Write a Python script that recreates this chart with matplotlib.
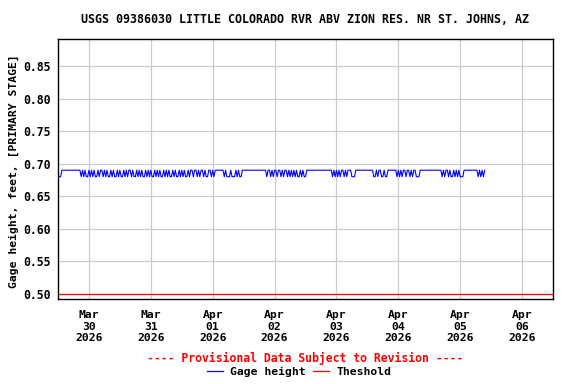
import numpy as np
import pandas as pd
import matplotlib
matplotlib.use("Agg")
import matplotlib.pyplot as plt
from matplotlib.lines import Line2D

plt.rcParams['font.family'] = ['DejaVu Sans Mono']
plt.rcParams['font.weight'] = 'bold'

titulo = "USGS 09386030 LITTLE COLORADO RVR ABV ZION RES. NR ST. JOHNS, AZ"
ylabel = "Gage height, feet, [PRIMARY STAGE]"

# lecturas cada 30 min desde 2026-03-29 12:30, 1 = 0.69 ft, 0 = 0.68 ft
inicio = "2026-03-29 12:30"
tramos = [
    "00",
    "111111111111111",
    "0101001010" "1001011010" "1001010010" "1001010110" "1001010100"
    "1010100101" "0100101010" "01010010",
    "1010010110" "1101011010" "0110101",
    "111111",
    "010001000101001",
    "1111111111111111",
    "11011010110110101101",
    "01010100101001",
    "1111111111111111111",
    "0101010110101110001",
    "1111111111111",
    "00101100100",
    "1111111",
    "010101101101011000",
    "11111111111111111",
    "0101101001" "0101000111" "1111111101" "0101",
]
nivel_alto = 0.69
nivel_bajo = 0.68
umbral = 0.50

patron = "".join(tramos)
valores = np.where(np.array(list(patron)) == "1", nivel_alto, nivel_bajo)
tiempos = pd.date_range(inicio, periods=len(valores), freq="30min")

dias = pd.date_range("2026-03-30", "2026-04-06", freq="D")
etiquetas = [d.strftime("%b\n%d\n%Y") for d in dias]
yticks = [0.50, 0.55, 0.60, 0.65, 0.70, 0.75, 0.80, 0.85]

fig = plt.figure(figsize=(5.76, 3.84), dpi=100)
ax = fig.add_axes([0.1007, 0.2214, 0.8594, 0.677])

ax.plot(tiempos, valores, color="#0000ff", linewidth=0.8)
ax.axhline(umbral, color="#ff0000", linewidth=0.9)

ax.set_xlim(pd.Timestamp("2026-03-29 12:00"), pd.Timestamp("2026-04-06 12:00"))
ax.set_ylim(0.4923, 0.8914)
ax.set_xticks(dias)
ax.set_xticklabels(etiquetas, fontsize=8.2, fontweight='bold', linespacing=1.2)
ax.set_yticks(yticks)
ax.set_yticklabels(["%.2f" % v for v in yticks], fontsize=8.3, fontweight='bold')
ax.tick_params(axis='both', length=0)
ax.tick_params(axis='x', pad=8)
ax.tick_params(axis='y', pad=5.5)
ax.grid(True, color="#cccccc", linewidth=0.9)
ax.set_axisbelow(True)
for s in ax.spines.values():
    s.set_color("black")
    s.set_linewidth(1.0)

ax.set_ylabel(ylabel, fontsize=8.2, fontweight='bold')
ax.yaxis.set_label_coords(-0.078, 0.49)

fig.text(0.529, 0.95, titulo, ha='center', va='center', fontsize=8.4, fontweight='bold')
fig.text(0.530, 0.067, "---- Provisional Data Subject to Revision ----",
         ha='center', va='center', fontsize=8.3, fontweight='bold', color="#ff0000")

handles = [Line2D([], [], color="#0000ff", linewidth=0.9),
           Line2D([], [], color="#ff0000", linewidth=0.9)]
fig.legend(handles, ["Gage height", "Theshold"], loc='center', bbox_to_anchor=(0.519, 0.031),
           ncol=2, frameon=False, handlelength=1.4, handletextpad=0.6,
           columnspacing=0.7, borderpad=0, prop={'weight': 'bold', 'size': 8.2})

fig.savefig("out.png", dpi=100)
